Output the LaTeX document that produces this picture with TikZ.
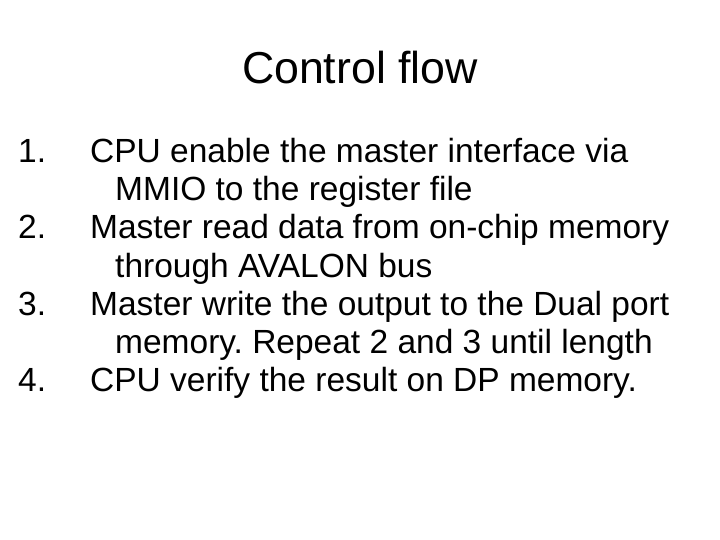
\documentclass[tikz,border=0pt]{standalone}
\usepackage{fontspec}
\setmainfont{Liberation Sans}
\frenchspacing
\begin{document}
\begin{tikzpicture}[x=1pt,y=-1pt,
  txt/.style={anchor=base west,inner sep=0pt,font=\fontsize{33.5}{38}\selectfont},
  ttl/.style={anchor=base,inner sep=0pt,font=\fontsize{44.7}{50}\selectfont}]
\useasboundingbox (0,0) rectangle (720,540);
\node[ttl] (title) at (360,84) {Control flow};
\node[txt] (n1) at (18,163) {1.};
\node[txt] (l1) at (90,163) {CPU enable the master interface via};
\node[txt] (l1b) at (115,201) {MMIO to the register file};
\node[txt] (n2) at (18,239) {2.};
\node[txt] (l2) at (90,239) {Master read data from on-chip memory};
\node[txt] (l2b) at (115,277) {through AVALON bus};
\node[txt] (n3) at (18,315) {3.};
\node[txt] (l3) at (90,315) {Master write the output to the Dual port};
\node[txt] (l3b) at (115,353) {memory. Repeat 2 and 3 until length};
\node[txt] (n4) at (18,391) {4.};
\node[txt] (l4) at (90,391) {CPU verify the result on DP memory.};
\end{tikzpicture}
\end{document}
